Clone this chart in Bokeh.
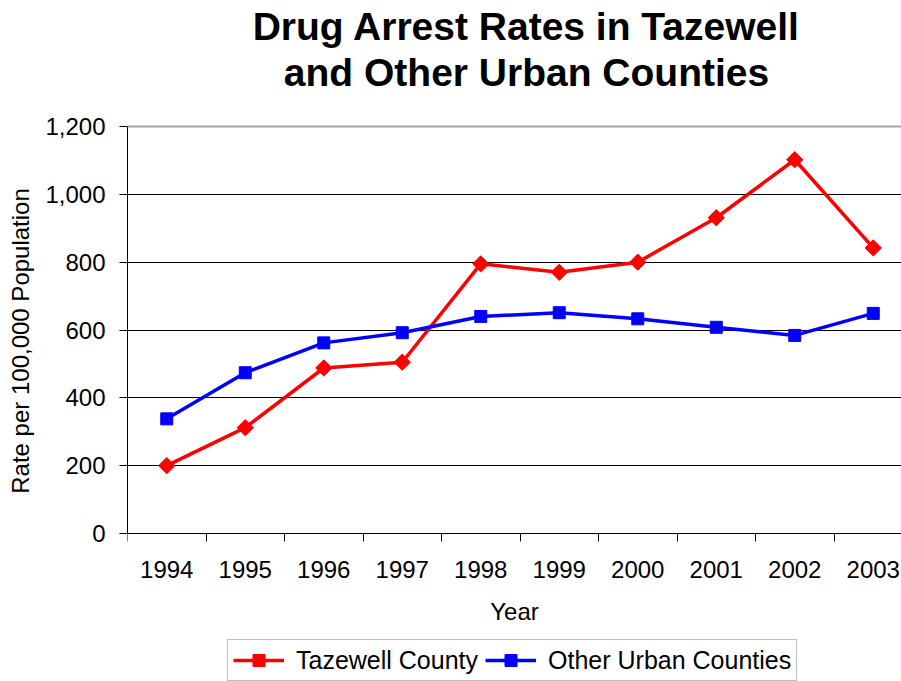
import numpy as np
from bokeh.plotting import figure
from bokeh.models import (Range1d, FixedTicker, NumeralTickFormatter, Legend,
                          LegendItem, Label, Span)
from bokeh.embed import file_html
from bokeh.resources import INLINE

# ---- data ----
years = ["1994", "1995", "1996", "1997", "1998", "1999", "2000", "2001", "2002", "2003"]
tazewell = [200, 312, 488, 505, 795, 770, 800, 931, 1102, 842]
other_urban = [338, 474, 562, 592, 640, 651, 633, 608, 584, 649]
y_ticks = [0, 200, 400, 600, 800, 1000, 1200]
title_lines = ["Drug Arrest Rates in Tazewell", "and Other Urban Counties"]

FONT = "Liberation Sans"

xs = [i + 0.5 for i in range(len(years))]
boundaries = list(range(len(years)))

# The frame covers the whole canvas right of the y axis; the value axis is
# bounded to 0..1200 so that the title and legend sit inside the frame.
PX_PER_UNIT = 407 / 1200.0
y_lo = 0 - (681 - 533) / PX_PER_UNIT
y_hi = 1200 + 126 / PX_PER_UNIT

p = figure(width=901, height=681, output_backend="svg", toolbar_location=None,
           x_range=Range1d(0, 774 / 78.5), y_range=Range1d(y_lo, y_hi),
           min_border_left=127, min_border_right=0, min_border_top=0,
           min_border_bottom=0)
p.outline_line_color = None
p.background_fill_color = "white"
p.border_fill_color = "white"

# x axis, drawn at value 0
xa = p.xaxis[0]
xa.fixed_location = 0
xa.bounds = (0, 10)
xa.ticker = FixedTicker(ticks=xs, minor_ticks=boundaries)
xa.major_label_overrides = {x: y for x, y in zip(xs, years)}
xa.major_tick_in = 0
xa.major_tick_out = 0
xa.minor_tick_in = 0
xa.minor_tick_out = 8
xa.minor_tick_line_color = "black"
xa.axis_line_color = "black"
xa.major_label_text_font = FONT
xa.major_label_text_font_size = "24px"
xa.major_label_text_color = "black"
xa.major_label_standoff = 19
xa.axis_label = "Year"
xa.axis_label_text_font = FONT
xa.axis_label_text_font_size = "24px"
xa.axis_label_text_font_style = "normal"
xa.axis_label_text_color = "black"
xa.axis_label_standoff = 17

# y axis
ya = p.yaxis[0]
ya.bounds = (y_ticks[0], y_ticks[-1])
ya.ticker = FixedTicker(ticks=y_ticks)
ya.formatter = NumeralTickFormatter(format="0,0")
ya.major_tick_in = 0
ya.major_tick_out = 8
ya.major_tick_line_color = "black"
ya.minor_tick_line_color = None
ya.axis_line_color = "black"
ya.major_label_text_font = FONT
ya.major_label_text_font_size = "24px"
ya.major_label_text_color = "black"
ya.major_label_standoff = 14
ya.axis_label = "Rate per 100,000 Population"
ya.axis_label_text_font = FONT
ya.axis_label_text_font_size = "24px"
ya.axis_label_text_font_style = "normal"
ya.axis_label_text_color = "black"
ya.axis_label_standoff = 8

# grid
p.xgrid.visible = False
p.ygrid.ticker = FixedTicker(ticks=y_ticks[1:-1])
p.ygrid.grid_line_color = "black"
p.ygrid.grid_line_width = 1
p.add_layout(Span(location=y_ticks[-1], dimension="width",
                  line_color="#a6a6a6", line_width=2))

# title (two centred lines above the plot area)
for line, y_px in zip(title_lines, [25.6, 72.0]):
    p.add_layout(Label(x=(526 - 127) / 78.5, y=1200 + (126 - y_px) / PX_PER_UNIT,
                       text=line, text_align="center", text_baseline="alphabetic",
                       text_font=FONT, text_font_size="39px",
                       text_font_style="bold", text_color="black"))

# series
l1 = p.line(xs, tazewell, line_color="#FF0000", line_width=3.5)
s1 = p.scatter(xs, tazewell, marker="square", angle=np.pi / 4, size=11.5,
               fill_color="#FF0000", line_color="#FF0000")
l2 = p.line(xs, other_urban, line_color="#0000FF", line_width=3.5)
s2 = p.scatter(xs, other_urban, marker="square", size=12,
               fill_color="#0000FF", line_color="#0000FF")

legend = Legend(items=[LegendItem(label="Tazewell County", renderers=[l1, s1]),
                       LegendItem(label="Other Urban Counties", renderers=[l2, s2])],
                orientation="horizontal", location=(100, 0),
                glyph_width=51, glyph_height=30, label_standoff=12, spacing=7,
                padding=5, margin=0,
                label_text_font=FONT, label_text_font_size="25px",
                label_text_color="black",
                border_line_color="#808080", border_line_width=1,
                background_fill_color="white", background_fill_alpha=1)
p.add_layout(legend)

open("out.html", "w").write(file_html(p, INLINE))
